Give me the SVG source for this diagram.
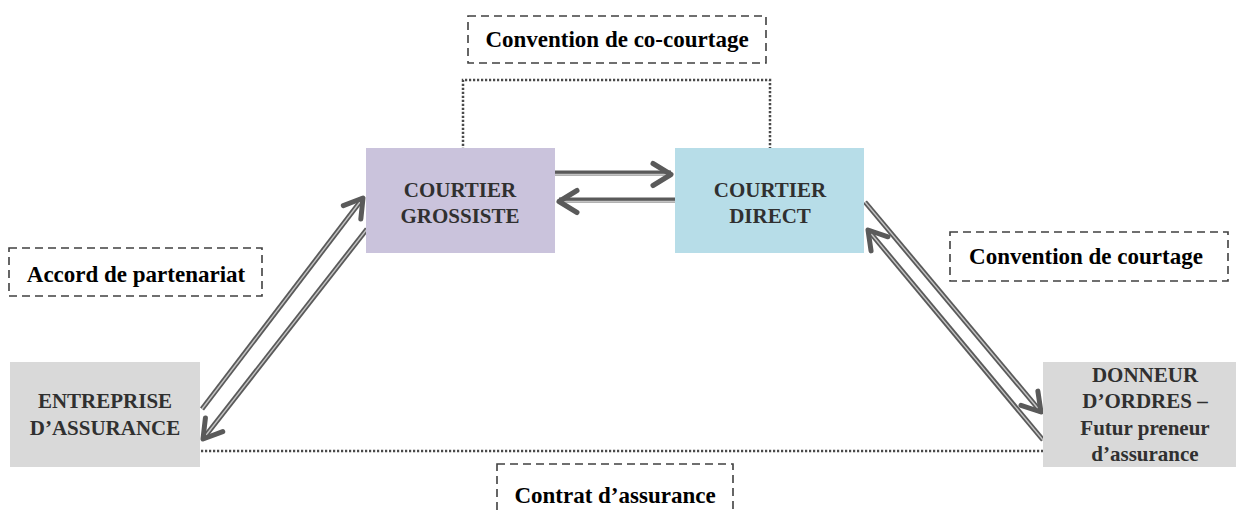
<svg xmlns="http://www.w3.org/2000/svg" width="1236" height="511" viewBox="0 0 1236 511">
<style>
.nt{font-family:"Liberation Serif","Times New Roman",serif;font-weight:bold;font-size:21px;fill:#303030;text-anchor:middle}
.lt{font-family:"Liberation Serif","Times New Roman",serif;font-weight:bold;font-size:23px;fill:#000000;text-anchor:middle}
.dash{fill:none;stroke:#404040;stroke-width:1.6;stroke-dasharray:8 5}
.dot{fill:none;stroke:#4a4a4a;stroke-width:2.5;stroke-dasharray:2.2 1.8}
.outer{stroke:#5a5a5a;stroke-width:5;fill:none}
.inner{stroke:#c4c4c4;stroke-width:1.4;fill:none;marker-end:url(#chev)}
</style>
<defs>
<marker id="chev" markerUnits="userSpaceOnUse" viewBox="-24 -14 28 28" refX="0" refY="0" markerWidth="28" markerHeight="28" orient="auto" overflow="visible">
<path d="M-18,-11 L0,0 L-18,11" fill="none" stroke="#5a5a5a" stroke-width="5" stroke-linecap="round" stroke-linejoin="round"/>
</marker>
</defs>
<rect width="1236" height="511" fill="#ffffff"/>

<g id="connectors">
<polyline class="dot" points="463,150 463,80 770,80 770,148"/>
<line class="dot" x1="201" y1="451" x2="1043" y2="451"/>
<line class="outer" x1="555" y1="173" x2="671" y2="173"/>
<line class="inner" x1="555" y1="174.5" x2="671" y2="174.5"/>
<line class="outer" x1="675" y1="200" x2="559" y2="200"/>
<line class="inner" x1="675" y1="201.5" x2="559" y2="201.5"/>
<line class="outer" x1="202" y1="409" x2="363" y2="198"/>
<line class="inner" x1="202" y1="409" x2="363" y2="198"/>
<line class="outer" x1="367" y1="229" x2="203" y2="439"/>
<line class="inner" x1="367" y1="229" x2="203" y2="439"/>
<line class="outer" x1="865" y1="202" x2="1041" y2="412"/>
<line class="inner" x1="865" y1="202" x2="1041" y2="412"/>
<line class="outer" x1="1043" y1="440" x2="868" y2="230"/>
<line class="inner" x1="1043" y1="440" x2="868" y2="230"/>
</g>

<g id="courtier-grossiste">
<rect x="366" y="148" width="189" height="105" fill="#cac3dc"/>
<text class="nt" x="460" y="197">COURTIER</text>
<text class="nt" x="460" y="223">GROSSISTE</text>
</g>
<g id="courtier-direct">
<rect x="675" y="148" width="189" height="105" fill="#b7dde8"/>
<text class="nt" x="770" y="197">COURTIER</text>
<text class="nt" x="770" y="223">DIRECT</text>
</g>
<g id="entreprise">
<rect x="10" y="362" width="190" height="105" fill="#d9d9d9"/>
<text class="nt" x="105" y="408">ENTREPRISE</text>
<text class="nt" x="105" y="435">D’ASSURANCE</text>
</g>
<g id="donneur">
<rect x="1043" y="362" width="193" height="105" fill="#d9d9d9"/>
<text class="nt" x="1145" y="382">DONNEUR</text>
<text class="nt" x="1145" y="408">D’ORDRES –</text>
<text class="nt" x="1145" y="435">Futur preneur</text>
<text class="nt" x="1145" y="461">d’assurance</text>
</g>

<g id="label-co-courtage">
<rect class="dash" x="468" y="16" width="298" height="47"/>
<text class="lt" x="617" y="47">Convention de co-courtage</text>
</g>
<g id="label-partenariat">
<rect class="dash" x="9" y="248" width="253" height="48"/>
<text class="lt" x="136" y="282">Accord de partenariat</text>
</g>
<g id="label-courtage">
<rect class="dash" x="950" y="232" width="278" height="49"/>
<text class="lt" x="1086" y="264">Convention de courtage</text>
</g>
<g id="label-contrat">
<rect class="dash" x="497" y="464" width="236" height="60"/>
<text class="lt" x="615" y="503">Contrat d’assurance</text>
</g>
</svg>
